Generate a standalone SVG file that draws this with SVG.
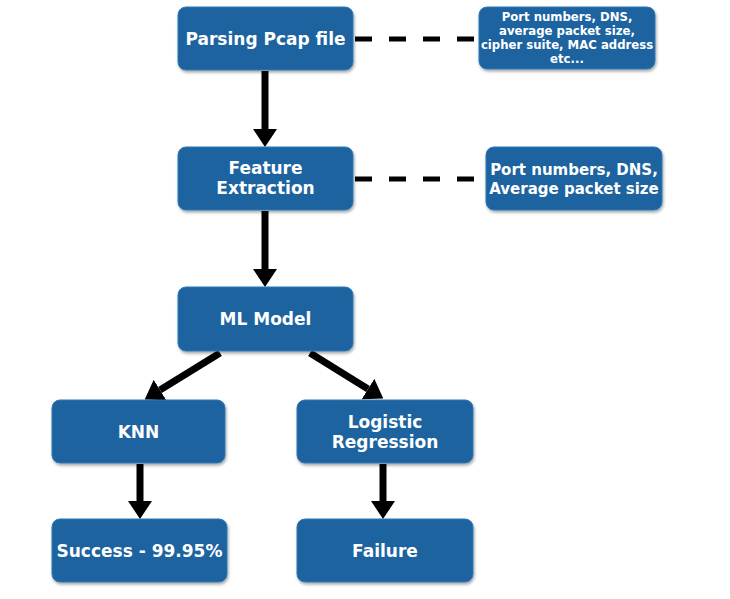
<svg xmlns="http://www.w3.org/2000/svg" width="730" height="599" viewBox="0 0 730 599">
<defs>
<filter id="sh" x="-10%" y="-10%" width="120%" height="130%">
<feDropShadow dx="1" dy="2" stdDeviation="1.5" flood-color="#000" flood-opacity="0.35"/>
</filter>
<marker id="ah" viewBox="0 0 18 24" refX="0" refY="12" markerWidth="18" markerHeight="24" markerUnits="userSpaceOnUse" orient="auto">
<path d="M0,0 L18,12 L0,24 z" fill="#000"/>
</marker>
</defs>
<style>
.box{fill:#1d63a0;stroke:#2f78b8;stroke-width:1;filter:url(#sh)}
.t{font-family:"DejaVu Sans",Verdana,sans-serif;font-weight:bold;fill:#fff;text-anchor:middle}
.big{font-size:17px}
.sm{font-size:11.7px}
.mid{font-size:15px}
.arr{stroke:#000;stroke-width:7;fill:none;marker-end:url(#ah)}
.dash{stroke:#000;stroke-width:5;stroke-dasharray:17 17;fill:none}
</style>
<rect width="730" height="599" fill="#fff"/>
<g id="connectors">
<line class="dash" x1="355" y1="39" x2="479" y2="39"/>
<line class="dash" x1="355" y1="179" x2="486" y2="179"/>
<line class="arr" x1="265" y1="71" x2="265" y2="129"/>
<line class="arr" x1="265" y1="211" x2="265" y2="269"/>
<line class="arr" x1="220" y1="353" x2="160" y2="390"/>
<line class="arr" x1="310" y1="353" x2="368" y2="389"/>
<line class="arr" x1="140" y1="464" x2="140" y2="501"/>
<line class="arr" x1="383" y1="464" x2="383" y2="501"/>
</g>
<g id="parsing">
<rect class="box" x="178" y="7" width="175" height="63" rx="8"/>
<text class="t big" x="265.5" y="45">Parsing Pcap file</text>
</g>
<g id="info1">
<rect class="box" x="479" y="7" width="176" height="62" rx="8"/>
<text class="t sm" x="567" y="21">Port numbers, DNS,</text>
<text class="t sm" x="567" y="35">average packet size,</text>
<text class="t sm" x="567" y="49">cipher suite, MAC address</text>
<text class="t sm" x="567" y="63">etc...</text>
</g>
<g id="feature">
<rect class="box" x="178" y="147" width="175" height="63" rx="8"/>
<text class="t big" x="265.5" y="174">Feature</text>
<text class="t big" x="265.5" y="194">Extraction</text>
</g>
<g id="info2">
<rect class="box" x="486" y="147" width="176" height="63" rx="8"/>
<text class="t mid" x="574" y="175">Port numbers, DNS,</text>
<text class="t mid" x="574" y="194">Average packet size</text>
</g>
<g id="ml">
<rect class="box" x="178" y="287" width="175" height="64" rx="8"/>
<text class="t big" x="265.5" y="325">ML Model</text>
</g>
<g id="knn">
<rect class="box" x="52" y="400" width="173" height="63" rx="8"/>
<text class="t big" x="138.5" y="438">KNN</text>
</g>
<g id="logistic">
<rect class="box" x="297" y="400" width="176" height="63" rx="8"/>
<text class="t big" x="385" y="428">Logistic</text>
<text class="t big" x="385" y="448">Regression</text>
</g>
<g id="success">
<rect class="box" x="52" y="519" width="175" height="63" rx="8"/>
<text class="t big" x="139.5" y="557">Success - 99.95%</text>
</g>
<g id="failure">
<rect class="box" x="297" y="519" width="176" height="63" rx="8"/>
<text class="t big" x="385" y="557">Failure</text>
</g>
</svg>
